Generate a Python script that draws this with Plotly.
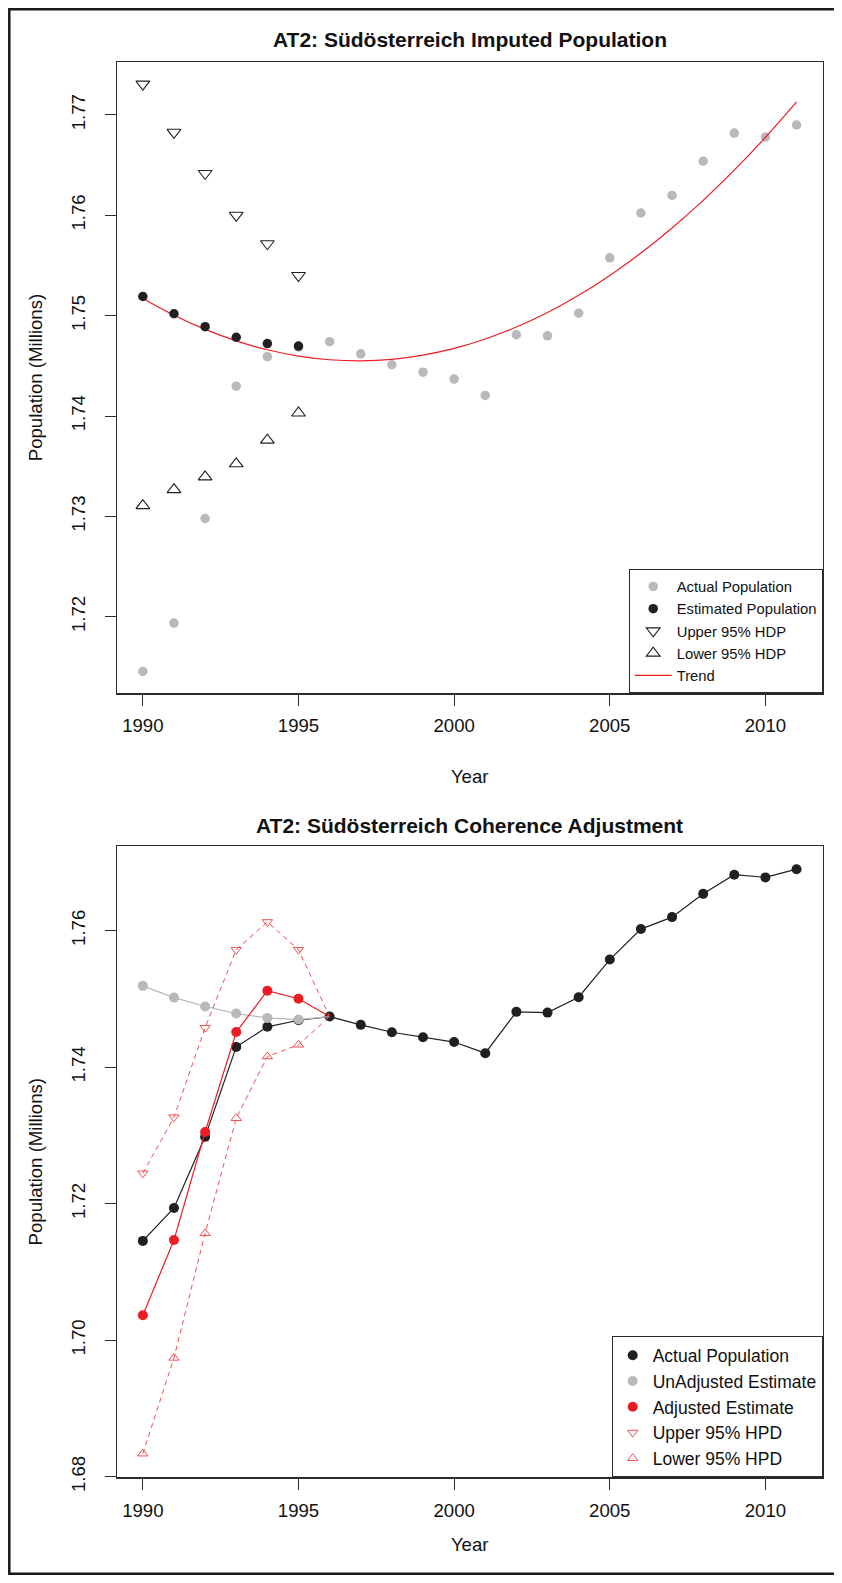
import plotly.graph_objects as go

# ---------------- data ----------------
years = list(range(1990, 2012))
actual_population = [1.71455, 1.71937, 1.72979, 1.74297, 1.74591, 1.74687, 1.74741, 1.74620,
                     1.74511, 1.74437, 1.74368, 1.74205, 1.74810, 1.74799, 1.75025, 1.75576,
                     1.76023, 1.76198, 1.76539, 1.76820, 1.76780, 1.76900]

est_years = [1990, 1991, 1992, 1993, 1994, 1995]
estimated_population = [1.75191, 1.75019, 1.74890, 1.74785, 1.74722, 1.74697]
upper_hdp = [1.77307, 1.76827, 1.76417, 1.76000, 1.75717, 1.75400]
lower_hdp = [1.73107, 1.73267, 1.73394, 1.73524, 1.73760, 1.74030]

trend = [1.75171, 1.75004, 1.74863, 1.74749, 1.74660, 1.74597, 1.74561, 1.74550,
         1.74565, 1.74607, 1.74674, 1.74768, 1.74887, 1.75032, 1.75203, 1.75401,
         1.75624, 1.75874, 1.76149, 1.76450, 1.76778, 1.77131]

adj_years = [1990, 1991, 1992, 1993, 1994, 1995, 1996]
unadjusted_estimate = [1.75191, 1.75019, 1.74890, 1.74785, 1.74722, 1.74697, 1.74741]
adjusted_estimate = [1.70367, 1.71467, 1.73050, 1.74514, 1.75120, 1.75002, 1.74741]
upper_hpd = [1.72446, 1.73267, 1.74577, 1.75721, 1.76127, 1.75721, 1.74741]
lower_hpd = [1.68338, 1.69741, 1.71566, 1.73252, 1.74156, 1.74328, 1.74741]

x_ticks = [1990, 1995, 2000, 2005, 2010]
y_ticks_top = [1.72, 1.73, 1.74, 1.75, 1.76, 1.77]
y_ticks_bottom = [1.68, 1.70, 1.72, 1.74, 1.76]

# ---------------- styling ----------------
OFF = 8                 # default page body margin
FW, FH = 834, 1582      # figure size in px
SY = 1598 / 1583        # vertical correction for the capture
FONT = "Liberation Sans"
BLACK = "#231F20"
GREY = "#B9B9BD"
RED = "#ED1C24"
RED_LIGHT = "#F04E50"

def fx(xp):
    return (xp - OFF) / FW

def fy(yp):
    return 1 - (yp * SY - OFF) / FH

fig = go.Figure()

# ---- top panel ----
fig.add_trace(go.Scatter(x=years, y=actual_population, mode="markers", name="Actual Population",
                         marker=dict(color=GREY, size=9.5), legend="legend", legendrank=1,
                         xaxis="x", yaxis="y"))
fig.add_trace(go.Scatter(x=years, y=trend, mode="lines", name="Trend",
                         line=dict(color=RED, width=1.2, shape="spline"), legend="legend", legendrank=5,
                         xaxis="x", yaxis="y"))
fig.add_trace(go.Scatter(x=est_years, y=estimated_population, mode="markers", name="Estimated Population",
                         marker=dict(color=BLACK, size=9.5), legend="legend", legendrank=2,
                         xaxis="x", yaxis="y"))
fig.add_trace(go.Scatter(x=est_years, y=upper_hdp, mode="markers", name="Upper 95% HDP",
                         marker=dict(symbol="triangle-down-open", color=BLACK, size=12, line=dict(width=1.1)),
                         legend="legend", legendrank=3, xaxis="x", yaxis="y"))
fig.add_trace(go.Scatter(x=est_years, y=lower_hdp, mode="markers", name="Lower 95% HDP",
                         marker=dict(symbol="triangle-up-open", color=BLACK, size=12, line=dict(width=1.1)),
                         legend="legend", legendrank=4, xaxis="x", yaxis="y"))

# ---- bottom panel ----
fig.add_trace(go.Scatter(x=years, y=actual_population, mode="lines", showlegend=False,
                         line=dict(color=BLACK, width=1.2), xaxis="x2", yaxis="y2"))
fig.add_trace(go.Scatter(x=years, y=actual_population, mode="markers", name="Actual Population",
                         marker=dict(color=BLACK, size=10), legend="legend2", legendrank=1,
                         xaxis="x2", yaxis="y2"))
fig.add_trace(go.Scatter(x=adj_years, y=unadjusted_estimate, mode="lines", showlegend=False,
                         line=dict(color=GREY, width=1.2), xaxis="x2", yaxis="y2"))
fig.add_trace(go.Scatter(x=adj_years[:6], y=unadjusted_estimate[:6], mode="markers", name="UnAdjusted Estimate",
                         marker=dict(color=GREY, size=10), legend="legend2", legendrank=2,
                         xaxis="x2", yaxis="y2"))
fig.add_trace(go.Scatter(x=adj_years, y=adjusted_estimate, mode="lines", showlegend=False,
                         line=dict(color=RED, width=1.2), xaxis="x2", yaxis="y2"))
fig.add_trace(go.Scatter(x=adj_years[:6], y=adjusted_estimate[:6], mode="markers", name="Adjusted Estimate",
                         marker=dict(color=RED, size=10), legend="legend2", legendrank=3,
                         xaxis="x2", yaxis="y2"))
fig.add_trace(go.Scatter(x=adj_years, y=upper_hpd, mode="lines", showlegend=False,
                         line=dict(color=RED_LIGHT, width=1, dash="5px,4px"), xaxis="x2", yaxis="y2"))
fig.add_trace(go.Scatter(x=adj_years[:6], y=upper_hpd[:6], mode="markers", name="Upper 95% HPD",
                         marker=dict(symbol="triangle-down-open", color=RED_LIGHT, size=9, line=dict(width=1)),
                         legend="legend2", legendrank=4, xaxis="x2", yaxis="y2"))
fig.add_trace(go.Scatter(x=adj_years, y=lower_hpd, mode="lines", showlegend=False,
                         line=dict(color=RED_LIGHT, width=1, dash="5px,4px"), xaxis="x2", yaxis="y2"))
fig.add_trace(go.Scatter(x=adj_years[:6], y=lower_hpd[:6], mode="markers", name="Lower 95% HPD",
                         marker=dict(symbol="triangle-up-open", color=RED_LIGHT, size=9, line=dict(width=1)),
                         legend="legend2", legendrank=5, xaxis="x2", yaxis="y2"))

tickfont = dict(family=FONT, size=18.6, color="#111111")
titlefont = dict(family=FONT, size=18.6, color="#111111")
axis_common = dict(showline=True, linecolor="#2a2a2a", linewidth=1.2, mirror=True,
                   ticks="outside", ticklen=11, tickwidth=1, tickcolor="#2a2a2a",
                   showgrid=False, zeroline=False, tickfont=tickfont)

x_dom = [fx(116.7), fx(822.7)]
top_dom = [fy(693.3), fy(61.7)]
bot_dom = [fy(1477.5), fy(846)]

fig.update_layout(
    width=FW, height=FH, autosize=False,
    margin=dict(l=0, r=0, t=0, b=0),
    paper_bgcolor="white", plot_bgcolor="white",
    font=dict(family=FONT, color="#111111"),
    xaxis=dict(domain=x_dom, anchor="y", range=[1989.16, 2011.84], tickvals=x_ticks,
               ticklabelstandoff=4,
               title=dict(text="Year", font=titlefont, standoff=35), **axis_common),
    yaxis=dict(domain=top_dom, anchor="x", range=[1.71237, 1.7753], tickvals=y_ticks_top,
               tickformat=".2f", tickangle=-90, ticklabelstandoff=12,
               title=dict(text="Population (Millions)", font=titlefont, standoff=20), **axis_common),
    xaxis2=dict(domain=x_dom, anchor="y2", range=[1989.16, 2011.84], tickvals=x_ticks,
                ticklabelstandoff=5,
                title=dict(text="Year", font=titlefont, standoff=18), **axis_common),
    yaxis2=dict(domain=bot_dom, anchor="x2", range=[1.6799, 1.7724], tickvals=y_ticks_bottom,
                tickformat=".2f", tickangle=-90, ticklabelstandoff=12,
                title=dict(text="Population (Millions)", font=titlefont, standoff=20), **axis_common),
    legend=dict(x=fx(822.7), xanchor="right", y=fy(693.3), yanchor="bottom",
                bgcolor="white", bordercolor="#2a2a2a", borderwidth=1, itemwidth=37,
                font=dict(family=FONT, size=14.8, color="#111111"), tracegroupgap=0),
    legend2=dict(x=fx(822.7), xanchor="right", y=fy(1477.5), yanchor="bottom",
                 bgcolor="white", bordercolor="#2a2a2a", borderwidth=1,
                 font=dict(family=FONT, size=17.5, color="#111111"), tracegroupgap=0),
    annotations=[
        dict(text="<b>AT2: Südösterreich Imputed Population</b>", xref="paper", yref="paper",
             x=fx(469.7), y=fy(39), xanchor="center", yanchor="middle", showarrow=False,
             font=dict(family=FONT, size=21, color="#111111")),
        dict(text="<b>AT2: Südösterreich Coherence Adjustment</b>", xref="paper", yref="paper",
             x=fx(469.7), y=fy(826), xanchor="center", yanchor="middle", showarrow=False,
             font=dict(family=FONT, size=21, color="#111111")),
    ],
    shapes=[
        dict(type="rect", xref="paper", yref="paper",
             x0=1.3 / FW, x1=fx(838), y0=1.3 / FH, y1=1 - 1.3 / FH,
             line=dict(color="#1a1a1a", width=2.5), fillcolor="rgba(0,0,0,0)", layer="below"),
    ],
)

fig.write_html("out.html", config={"displayModeBar": False, "staticPlot": True})
